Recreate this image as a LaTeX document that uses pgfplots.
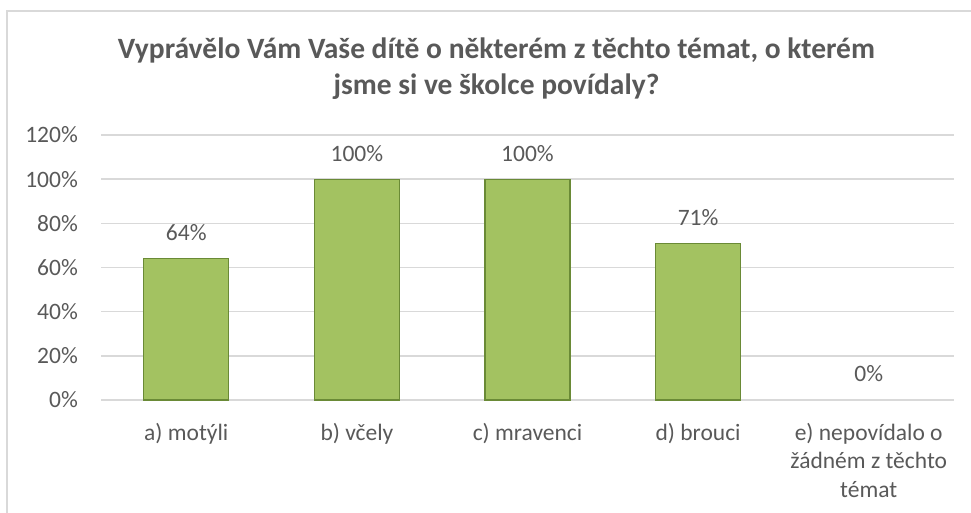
\documentclass[border=0pt]{standalone}
\usepackage{pgfplots}
\pgfplotsset{compat=1.18}
\usepackage{fontspec}
\setmainfont{Carlito}
\definecolor{txt}{HTML}{595959}
\definecolor{grid}{HTML}{D9D9D9}
\definecolor{barF}{HTML}{A3C261}
\definecolor{barE}{HTML}{6A8A36}
\begin{document}
\begin{tikzpicture}[x=1bp,y=1bp]
\useasboundingbox (0,0) rectangle (971,513);
\draw[grid, line width=1.5bp] (7,502) rectangle (992,-20);
\node[anchor=base, text=txt, font=\fontsize{29.5bp}{36bp}\selectfont\bfseries] at (496.5,454.7) {Vyprávělo Vám Vaše dítě o některém z těchto témat, o kterém};
\node[anchor=base, text=txt, font=\fontsize{29.5bp}{36bp}\selectfont\bfseries] at (496.5,418.5) {jsme si ve školce povídaly?};
\begin{axis}[
  at={(101bp,113bp)}, anchor=south west,
  scale only axis, width=853bp, height=265bp,
  xmin=-0.5, xmax=4.5, ymin=0, ymax=120,
  axis line style={draw=none},
  ytick={0,20,40,60,80,100,120},
  yticklabels={0\%,20\%,40\%,60\%,80\%,100\%,120\%},
  xtick={0,1,2,3,4},
  xticklabels={a) motýli, b) včely, c) mravenci, d) brouci, {e) nepovídalo o\\žádném z těchto\\témat}},
  major tick length=0pt,
  xmajorgrids=false,
  ymajorgrids=true,
  y grid style={grid, line width=1.5bp},
  yticklabel style={font=\fontsize{23.5bp}{28.5bp}\selectfont, text=txt, inner sep=0pt, anchor=east, xshift=-23bp},
  xticklabel style={font=\fontsize{23.5bp}{28.5bp}\selectfont, text=txt, inner sep=0pt, anchor=north, yshift=-23bp, align=center},
  /pgf/number format/assume math mode=true,
  clip=false,
]
\draw[grid, line width=1.5bp] (axis cs:-0.5,0) -- (axis cs:4.5,0);
\addplot[ybar, bar width=85bp, bar shift=0pt, draw=barE, line width=1.2bp, fill=barF,
  nodes near coords={\pgfmathprintnumber{\pgfplotspointmeta}\%},
  every node near coord/.append style={font=\fontsize{23.5bp}{27bp}\selectfont, text=txt, anchor=base, yshift=18bp, inner sep=0pt}]
  coordinates {(0,64) (1,100) (2,100) (3,71)};
\addplot[ybar, bar width=85bp, bar shift=0pt, draw=none, fill=none,
  nodes near coords={\pgfmathprintnumber{\pgfplotspointmeta}\%},
  every node near coord/.append style={font=\fontsize{23.5bp}{27bp}\selectfont, text=txt, anchor=base, yshift=18bp, inner sep=0pt}]
  coordinates {(4,0)};
\end{axis}
\end{tikzpicture}
\end{document}
